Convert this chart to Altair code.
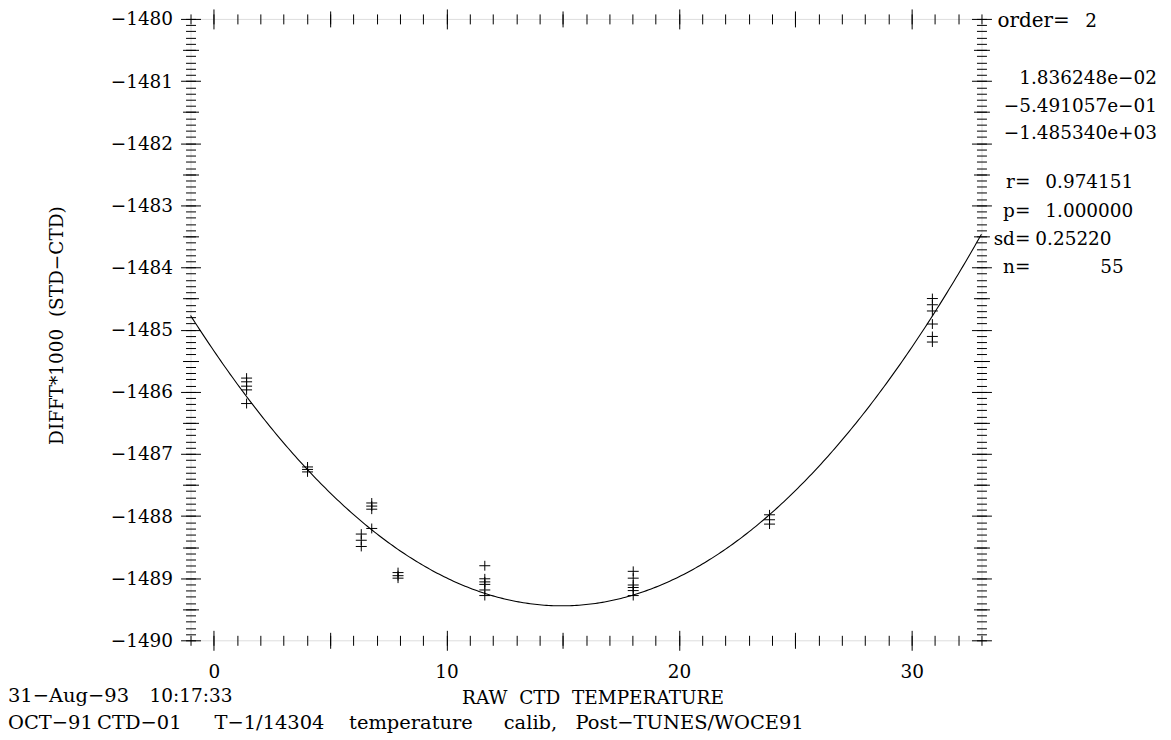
import altair as alt
import pandas as pd

# ---------------- data ----------------
raw_temp = [
    1.41, 1.41, 1.41, 1.41, 1.41,
    4.03, 4.03, 4.03,
    6.34, 6.34, 6.34,
    6.79, 6.79, 6.79, 6.79,
    7.92, 7.92, 7.92,
    11.65, 11.65, 11.65, 11.65, 11.65, 11.65,
    18.03, 18.03, 18.03, 18.03, 18.03, 18.03,
    23.89, 23.89, 23.89,
    30.89, 30.89, 30.89, 30.89, 30.89, 30.89,
]
diff_x1000 = [
    -1485.78, -1485.84, -1485.91, -1485.97, -1486.19,
    -1487.21, -1487.25, -1487.29,
    -1488.29, -1488.39, -1488.49,
    -1487.79, -1487.84, -1487.89, -1488.20,
    -1488.91, -1488.96, -1489.00,
    -1488.80, -1489.01, -1489.06, -1489.10, -1489.19, -1489.28,
    -1488.89, -1489.00, -1489.11, -1489.15, -1489.20, -1489.28,
    -1487.98, -1488.06, -1488.13,
    -1484.50, -1484.60, -1484.70, -1484.91, -1485.11, -1485.20,
]
# fitted polynomial printed on the chart (x^2, x, const)
poly_coef = [1.836248e-02, -5.491057e-01, -1.485340e+03]
poly_order = 2
stat_keys = ["r=", "p=", "sd=", "n="]
stat_vals = ["0.974151", "1.000000", "0.25220", "55"]

x_domain = [-1, 33]
y_domain = [-1490, -1480]
x_major = [0, 10, 20, 30]
x_mid = [5, 15, 25]
x_minor = list(range(-1, 34))
y_major = list(range(-1490, -1479))
y_mid = [v + 0.5 for v in range(-1490, -1480)]
y_minor = [round(-1490 + 0.1 * i, 1) for i in range(101)]

stamp_words = ["31−Aug−93", "10:17:33"]
footer_words = ["OCT−91", "CTD−01", "T−1/14304", "temperature", "calib,",
                "Post−TUNES/WOCE91"]
x_title = "RAW\u00a0\u00a0CTD\u00a0\u00a0TEMPERATURE"
y_title = "DIFFT*1000\u00a0\u00a0(STD−CTD)"

# ---------------- styling ----------------
FONT = "DejaVu Serif"
FS = 18.5
FS_NOTE = 19.5
W, H = 793, 623

xs = alt.Scale(domain=x_domain, nice=False, zero=False)
ys = alt.Scale(domain=y_domain, nice=False, zero=False)


def ax(values, orient, size, labels=False, title="", **kw):
    return alt.Axis(values=values, orient=orient, tickSize=size, offset=-(size // 2),
                    domain=False, grid=False, labels=labels, ticks=True,
                    tickColor="black", tickWidth=1, title=title,
                    labelFont=FONT, labelFontSize=FS, labelColor="black",
                    titleFont=FONT, titleFontSize=FS, titleColor="black",
                    titleFontWeight="normal", **kw)


df = pd.DataFrame({"t": raw_temp, "d": diff_x1000})
base = alt.Chart(df)

points = base.mark_point(
    shape="M-1,0L1,0M0,-0.9L0,0.9", size=121, filled=False,
    stroke="black", strokeWidth=1, opacity=1,
).encode(
    x=alt.X("t:Q", scale=xs,
            axis=ax(x_major, "bottom", 20, labels=True, title=x_title,
                    format="d", labelPadding=12,
                    titleX=403, titleY=73, titleAlign="center",
                    titleBaseline="alphabetic")),
    y=alt.Y("d:Q", scale=ys,
            axis=ax(y_major, "left", 20, labels=True, title=y_title,
                    format="d", labelPadding=8,
                    titleX=-144, titleY=307, titleAngle=270,
                    titleAlign="center", titleBaseline="middle")),
)

curve = alt.Chart(alt.sequence(x_domain[0], x_domain[1] + 0.05, 0.1, as_="t")).transform_calculate(
    d=f"{poly_coef[0]}*datum.t*datum.t + {poly_coef[1]}*datum.t + {poly_coef[2]}"
).mark_line(color="black", strokeWidth=1.1).encode(
    x=alt.X("t:Q", scale=xs, axis=ax(x_major, "top", 20)),
    y=alt.Y("d:Q", scale=ys, axis=ax(y_major, "right", 20)),
)


def axis_layer(xv, xo, yv, yo, size):
    return base.mark_point(opacity=0).encode(
        x=alt.X("t:Q", scale=xs, axis=ax(xv, xo, size)),
        y=alt.Y("d:Q", scale=ys, axis=ax(yv, yo, size)),
    )


dummy = pd.DataFrame({"k": [0]})


def txt(text, x, y, align="left", size=FS):
    return alt.Chart(dummy).mark_text(
        text=text, align=align, baseline="alphabetic", font=FONT,
        fontSize=size, color="black",
    ).encode(x=alt.value(x), y=alt.value(y))


def fmt(v):
    return f"{v:.6e}".replace("-", "−")


# plot origin is at page (191, 18)
texts = [
    txt("order=", 809, 8, size=20), txt(str(poly_order), 897, 8),
    txt(fmt(poly_coef[0]), 969, 65, "right"),
    txt(fmt(poly_coef[1]), 969, 93, "right"),
    txt(fmt(poly_coef[2]), 969, 120, "right"),
    txt(stat_keys[0], 842, 170, "right"), txt(stat_vals[0], 857, 170),
    txt(stat_keys[1], 842, 199, "right"), txt(stat_vals[1], 857, 199),
    txt(stat_keys[2], 842, 227, "right"), txt(stat_vals[2], 847, 227),
    txt(stat_keys[3], 842, 255, "right"), txt(stat_vals[3], 912, 255),
    txt(stamp_words[0], -183, 685, size=FS_NOTE),
    txt(stamp_words[1], 42, 685, "right"),
    txt(footer_words[0], -183, 712, size=FS_NOTE),
    txt(footer_words[1], -9, 712, "right", size=FS_NOTE),
    txt(footer_words[2], 24, 712, size=FS_NOTE),
    txt(footer_words[3], 159, 712, size=FS_NOTE),
    txt(footer_words[4], 314, 712, size=FS_NOTE),
    txt(footer_words[5], 386, 712, size=FS_NOTE),
]

chart = alt.layer(
    curve, points,
    axis_layer(x_mid, "bottom", y_mid, "left", 16),
    axis_layer(x_mid, "top", y_mid, "right", 16),
    axis_layer(x_minor, "bottom", y_minor, "left", 10),
    axis_layer(x_minor, "top", y_minor, "right", 10),
    *texts,
).resolve_axis(x="independent", y="independent").properties(
    width=W, height=H, autosize="none",
    padding={"left": 183, "top": 10, "right": 182, "bottom": 96},
).configure_view(stroke="black", strokeWidth=1).configure(background="white")

chart.save("out.html", embed_options={"renderer": "svg", "actions": False})
